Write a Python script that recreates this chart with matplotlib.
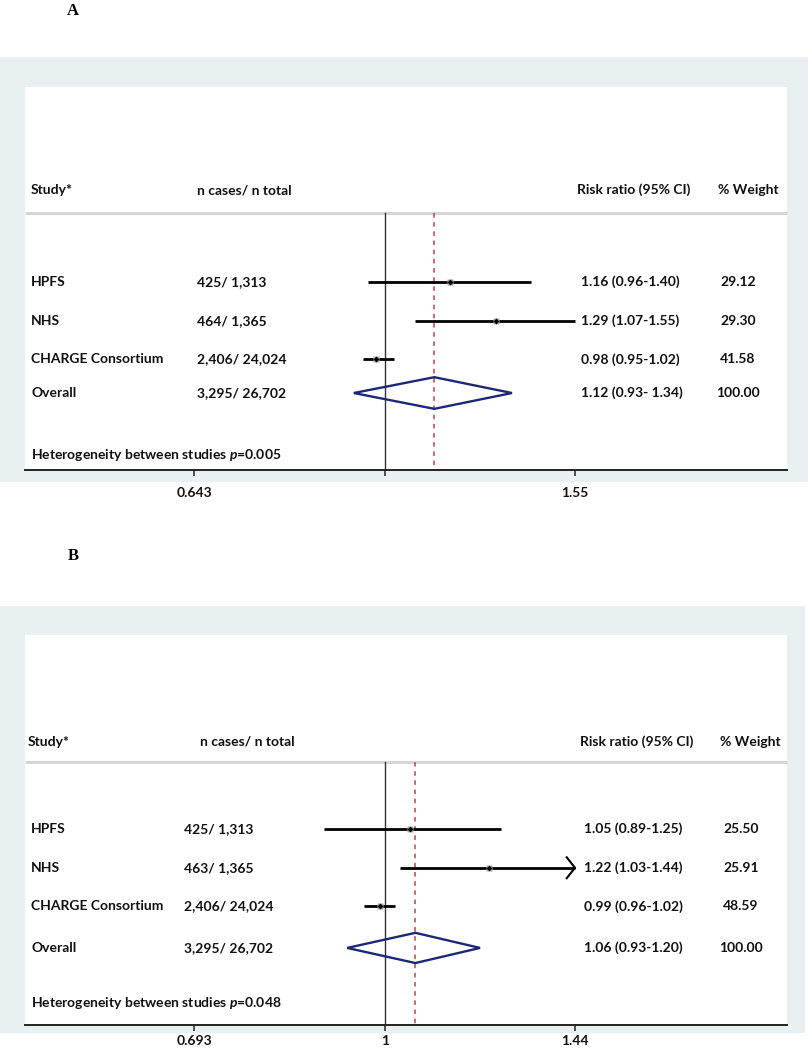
import numpy as np
import matplotlib
matplotlib.use("Agg")
import matplotlib.pyplot as plt
from matplotlib.patches import Rectangle, Polygon
from matplotlib.ticker import NullLocator
import matplotlib.transforms as mtransforms

plt.rcParams['font.family'] = ['Lato', 'DejaVu Sans']
plt.rcParams['mathtext.fontset'] = 'custom'
plt.rcParams['mathtext.it'] = 'Lato:italic:bold'
plt.rcParams['mathtext.rm'] = 'Lato:bold'

# ---------------- data ----------------
studies = ["HPFS", "NHS", "CHARGE Consortium"]
overall_label = "Overall"
headers = ["Study*", "n cases/ n total", "Risk ratio (95% CI)", "% Weight"]

# Panel A
cases_a = ["425/ 1,313", "464/ 1,365", "2,406/ 24,024", "3,295/ 26,702"]
rr_a = [1.16, 1.29, 0.98]
lo_a = [0.96, 1.07, 0.95]
hi_a = [1.40, 1.55, 1.02]
w_a = [29.12, 29.30, 41.58]
overall_a = [1.12, 0.93, 1.34]
rr_text_a = ["1.16 (0.96-1.40)", "1.29 (1.07-1.55)", "0.98 (0.95-1.02)", "1.12 (0.93- 1.34)"]
w_text_a = ["29.12", "29.30", "41.58", "100.00"]
het_p_a = "0.005"
ticks_a = [0.643, 1.0, 1.55]
ticklabels_a = ["0.643", "", "1.55"]
arrow_a = [False, False, False]

# Panel B
cases_b = ["425/ 1,313", "463/ 1,365", "2,406/ 24,024", "3,295/ 26,702"]
rr_b = [1.05, 1.22, 0.99]
lo_b = [0.89, 1.03, 0.96]
hi_b = [1.25, 1.44, 1.02]
w_b = [25.50, 25.91, 48.59]
overall_b = [1.06, 0.93, 1.20]
rr_text_b = ["1.05 (0.89-1.25)", "1.22 (1.03-1.44)", "0.99 (0.96-1.02)", "1.06 (0.93-1.20)"]
w_text_b = ["25.50", "25.91", "48.59", "100.00"]
het_p_b = "0.048"
ticks_b = [0.693, 1.0, 1.44]
ticklabels_b = ["0.693", "1", "1.44"]
arrow_b = [False, True, False]

# ---------------- layout ----------------
W, H = 808, 1050
fig = plt.figure(figsize=(W / 100, H / 100), dpi=100)
fig.patch.set_facecolor('white')

BAND = '#e8f0f2'
TXT = '#111111'
FS = 10.0


def fx(px):
    return px / W


def fy(py):
    return 1 - py / H


def panel(letter, letter_y, band, box, xlim, ylim, rowpos, head_y, hline_y, het_y,
          cases, rr, lo, hi, w, overall, rr_text, w_text, het_p, ticks, ticklabels,
          arrows, col_x, diam_h, tpad):
    # letter
    fig.text(fx(73), fy(letter_y), letter, ha='center', va='center',
             family='Liberation Serif', weight='bold', fontsize=12)
    # gray band
    bx0, by0, bx1, by1 = band
    fig.patches.append(Rectangle((fx(bx0), fy(by1)), fx(bx1) - fx(bx0), fy(by0) - fy(by1),
                                 transform=fig.transFigure, facecolor=BAND,
                                 edgecolor='none', zorder=-5))
    x0, y0, x1, y1 = box
    ax = fig.add_axes([fx(x0), fy(y1), fx(x1) - fx(x0), fy(y0) - fy(y1)])
    ax.set_zorder(2)
    ax.set_facecolor('white')
    ax.set_xscale('log')
    ax.set_xlim(*xlim)
    ax.set_ylim(ylim[1], ylim[0])
    for s in ['top', 'left', 'right']:
        ax.spines[s].set_visible(False)
    ax.spines['bottom'].set_color('#222222')
    ax.spines['bottom'].set_linewidth(1.4)
    ax.set_yticks([])
    ax.xaxis.set_minor_locator(NullLocator())
    ax.set_xticks(ticks)
    ax.set_xticklabels(ticklabels, fontweight='bold', color=TXT)
    ax.tick_params(axis='x', direction='out', length=4, width=1.1, color='#222222',
                   pad=tpad, labelsize=FS)

    tr = mtransforms.blended_transform_factory(ax.transAxes, ax.transData)

    def xa(px):
        return (px - x0) / (x1 - x0)

    # headers
    for htxt, hx in zip(headers, col_x['head']):
        ax.text(xa(hx), head_y, htxt, transform=tr, ha='left', va='center',
                fontsize=FS, weight='bold', color=TXT)
    ax.plot([0, 1], [hline_y, hline_y], transform=tr, color='#d6d6d6', lw=2.2,
            clip_on=False, solid_capstyle='butt')

    # reference lines
    ax.plot([1, 1], [hline_y, ylim[1]], color='#333333', lw=1.0, zorder=2)
    ax.plot([overall[0], overall[0]], [hline_y, ylim[1]], color='#b5474f', lw=1.1,
            dashes=(3, 3), zorder=2)

    labels = studies + [overall_label]
    for i, lab in enumerate(labels):
        y = rowpos[i]
        ax.text(xa(col_x['study']), y, lab, transform=tr, ha='left', va='center',
                fontsize=FS, weight='bold', color=TXT)
        ax.text(xa(col_x['cases']), y, cases[i], transform=tr, ha='left', va='center',
                fontsize=FS, weight='bold', color=TXT)
        ax.text(xa(col_x['rr']), y, rr_text[i], transform=tr, ha='left', va='center',
                fontsize=FS, weight='bold', color=TXT)
        ax.text(xa(col_x['w']), y, w_text[i], transform=tr, ha='center', va='center',
                fontsize=FS, weight='bold', color=TXT)

    for i in range(3):
        y = rowpos[i]
        ax.plot([lo[i], hi[i]], [y, y], color='black', lw=2.0, zorder=3,
                solid_capstyle='butt')
        ax.plot([rr[i]], [y], marker='s', ms=2.6 + 0.05 * w[i], color='#a9a9a9',
                mec='none', zorder=4)
        ax.plot([rr[i]], [y], marker='D', ms=3.0, color='black', mec='none', zorder=5)
        if arrows[i]:
            ax.plot([hi[i] / 1.016, hi[i], hi[i] / 1.016], [y - 0.27, y, y + 0.27],
                    color='black', lw=1.5, zorder=3)

    est, dlo, dhi = overall
    yd = rowpos[3]
    ax.add_patch(Polygon([[dlo, yd], [est, yd - diam_h], [dhi, yd], [est, yd + diam_h]],
                         closed=True, fill=False, edgecolor='#1c2776', lw=1.7, zorder=4))

    ax.text(xa(col_x['study']), het_y, "Heterogeneity between studies $p$=" + het_p,
            transform=tr, ha='left', va='center', fontsize=FS, weight='bold', color=TXT)
    return ax


panel("A", 11, (0, 57, 808, 482), (25, 87, 787, 470),
      (0.4352, 2.529), (-5.05, 4.87), [0, 1, 2, 2.876], -2.38, -1.79, 4.48,
      cases_a, rr_a, lo_a, hi_a, w_a, overall_a, rr_text_a, w_text_a, het_p_a,
      ticks_a, ticklabels_a, arrow_a,
      dict(head=[31, 197, 577, 718], study=31, cases=197, rr=581, w=738), 0.41, 8)

panel("B", 556, (0, 606, 805, 1033), (25, 635, 787, 1025),
      (0.5010, 2.1633), (-5.01, 5.06), [0, 1, 2, 3.07], -2.25, -1.73, 4.50,
      cases_b, rr_b, lo_b, hi_b, w_b, overall_b, rr_text_b, w_text_b, het_p_b,
      ticks_b, ticklabels_b, arrow_b,
      dict(head=[28, 200, 580, 720], study=31, cases=184, rr=584, w=741), 0.39, 3)

fig.savefig("out.png", dpi=100, facecolor='white')
